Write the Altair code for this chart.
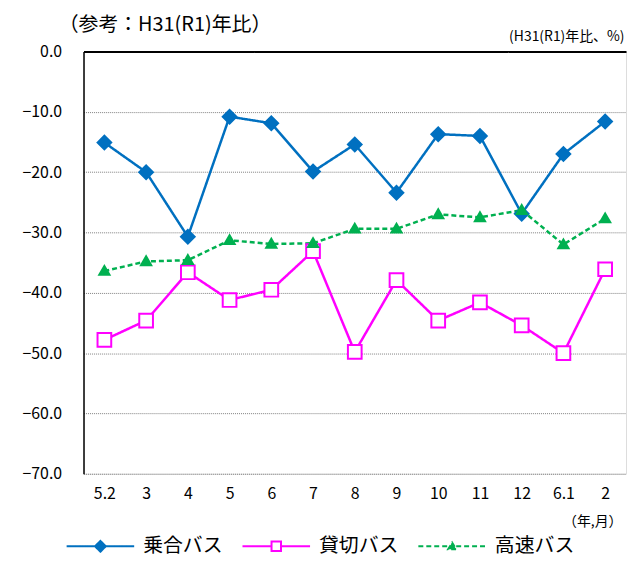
import altair as alt
import pandas as pd

months = ["5.2", "3", "4", "5", "6", "7", "8", "9", "10", "11", "12", "6.1", "2"]
series_names = ["乗合バス", "貸切バス", "高速バス"]
noriai = [-15.1, -20.0, -30.7, -10.8, -11.9, -19.9, -15.4, -23.4, -13.7, -14.0, -26.9, -17.0, -11.6]
kashikiri = [-47.8, -44.6, -36.6, -41.2, -39.5, -33.1, -49.8, -37.9, -44.6, -41.6, -45.4, -50.0, -36.1]
kosoku = [-36.4, -34.8, -34.6, -31.3, -31.9, -31.8, -29.4, -29.4, -27.0, -27.5, -26.3, -32.0, -27.7]
y_ticks = [0, -10, -20, -30, -40, -50, -60, -70]

colors = ["#0070C0", "#FF00FF", "#00B050"]
fills = ["#0070C0", "#FFFFFF", "#00B050"]
dashes = [[1, 0], [1, 0], [5, 3]]
point_shapes = ["diamond", "square", "M0,-0.75L0.75,0.55L-0.75,0.55Z"]
legend_shapes = [
    "M-1,0L-0.16,0M0,-0.16L0.16,0L0,0.16L-0.16,0ZM0.16,0L1,0",
    "M-1,0L-0.14,0M-0.14,-0.14L0.14,-0.14L0.14,0.14L-0.14,0.14ZM0.14,0L1,0",
    "M-1,0L-0.12,0M0,-0.11L0.12,0.09L-0.12,0.09ZM0.12,0L1,0",
]

rows = []
for name, vals in zip(series_names, [noriai, kashikiri, kosoku]):
    for m, v in zip(months, vals):
        rows.append({"month": m, "series": name, "value": v})
df = pd.DataFrame(rows)

FONT = "Noto Sans CJK JP"

x_enc = alt.X(
    "month:N",
    sort=months,
    scale=alt.Scale(type="point", padding=0.5),
    axis=alt.Axis(
        title="（年,月）",
        titleX=512,
        titleY=48,
        titleAlign="center",
        titleBaseline="middle",
        titleFontSize=14,
        titleFontWeight="normal",
        titleFont=FONT,
        titleColor="#000000",
        domain=False,
        ticks=False,
        grid=False,
        labelAngle=0,
        labelPadding=12,
        labelFontSize=16,
        labelFont=FONT,
        labelColor="#000000",
    ),
)

y_enc = alt.Y(
    "value:Q",
    scale=alt.Scale(domain=[-70, 0], nice=False, zero=False),
    axis=alt.Axis(
        values=y_ticks,
        format=".1f",
        title="(H31(R1)年比、%)",
        titleAngle=0,
        titleX=544,
        titleY=-15,
        titleAlign="right",
        titleBaseline="middle",
        titleFontSize=14,
        titleFontWeight="normal",
        titleFont=FONT,
        titleColor="#000000",
        domain=True,
        domainColor="#000000",
        domainWidth=1.5,
        ticks=False,
        labelPadding=22,
        labelFontSize=16,
        labelFont=FONT,
        labelColor="#000000",
        grid=True,
        gridColor=alt.condition("datum.value == 0", alt.value("#000000"), alt.value("#808080")),
        gridDash=alt.condition("datum.value == 0", alt.value([1, 0]), alt.value([1, 1])),
        gridWidth=alt.condition("datum.value == 0", alt.value(2), alt.value(1)),
    ),
)

def stroke_scale():
    return alt.Scale(domain=series_names, range=colors)

def fill_scale():
    return alt.Scale(domain=series_names, range=fills)

def dash_scale():
    return alt.Scale(domain=series_names, range=dashes)

base = alt.Chart(df)

lines = base.mark_line(strokeWidth=2.5).encode(
    x=x_enc,
    y=y_enc,
    stroke=alt.Stroke("series:N", scale=stroke_scale(), legend=None),
    strokeDash=alt.StrokeDash("series:N", scale=dash_scale(), legend=None),
    detail="series:N",
)

points = base.mark_point(filled=True, opacity=1, strokeWidth=2, size=190).encode(
    x=x_enc,
    y=y_enc,
    stroke=alt.Stroke("series:N", scale=stroke_scale(), legend=None),
    fill=alt.Fill("series:N", scale=fill_scale(), legend=None),
    shape=alt.Shape("series:N", scale=alt.Scale(domain=series_names, range=point_shapes), legend=None),
)

leg = alt.Legend(
    title=None,
    orient="none",
    legendX=-18,
    legendY=463,
    direction="horizontal",
    symbolSize=4624,
    symbolStrokeWidth=2,
    labelFontSize=20,
    labelFont=FONT,
    labelColor="#000000",
    labelOffset=8,
    columnPadding=16,
)

legend_layer = base.transform_filter("false").mark_point(filled=True, opacity=1, strokeWidth=2).encode(
    x=x_enc,
    y=y_enc,
    stroke=alt.Stroke("series:N", scale=stroke_scale(), legend=leg),
    fill=alt.Fill("series:N", scale=fill_scale(), legend=leg),
    strokeDash=alt.StrokeDash("series:N", scale=dash_scale(), legend=leg),
    shape=alt.Shape("series:N", scale=alt.Scale(domain=series_names, range=legend_shapes), legend=leg),
)

chart = (
    alt.layer(lines, points, legend_layer)
    .resolve_scale(shape="independent", stroke="independent", fill="independent", strokeDash="independent")
    .resolve_legend(shape="independent", stroke="independent", fill="independent", strokeDash="independent")
    .properties(
        width=546,
        height=425,
        autosize=alt.AutoSizeParams(type="none"),
        padding={"left": 76, "top": 42, "right": 2, "bottom": 82},
        title=alt.TitleParams(
            text="（参考：H31(R1)年比）",
            anchor="start",
            frame="group",
            dx=-25,
            offset=-5,
            fontSize=20,
            fontWeight="normal",
            font=FONT,
            color="#000000",
        ),
    )
    .configure_view(stroke=None)
    .configure(background="#FFFFFF")
)

chart.save("out.html", embed_options={"renderer": "svg", "actions": False})
